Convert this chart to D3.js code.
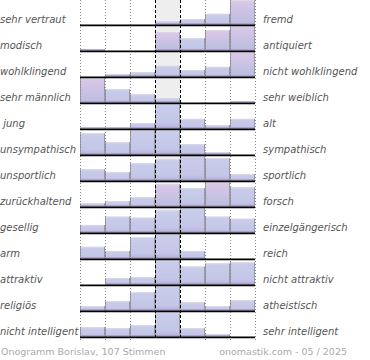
<!DOCTYPE html>
<html><head><meta charset="utf-8">
<script src="https://cdn.jsdelivr.net/npm/d3@7"></script>
<style>body{margin:0;background:#fff;} svg{display:block;}</style>
</head><body>
<svg id="c" width="370" height="360"></svg>
<script>
const leftLabels = ["sehr vertraut","modisch","wohlklingend","sehr männlich"," jung","unsympathisch","unsportlich","zurückhaltend","gesellig","arm","attraktiv","religiös","nicht intelligent"];
const rightLabels = ["fremd","antiquiert","nicht wohlklingend","sehr weiblich","alt","sympathisch","sportlich","forsch","einzelgängerisch","reich","nicht attraktiv","atheistisch","sehr intelligent"];
const scalePoints = [1,2,3,4,5,6,7];
const votes = [
  [0,0,0,4,6,11,24],
  [2,0,0,19,13,21,25],
  [0,3,5,11,7,10,24],
  [25,14,9,5,0,0,1],
  [1,1,6,24,10,4,10],
  [22,13,25,25,11,3,0],
  [12,9,18,22,25,23,7],
  [4,6,10,23,19,25,20],
  [8,16,15,22,24,16,14],
  [12,8,21,24,8,0,0],
  [0,7,8,24,18,21,22],
  [5,10,19,25,9,5,11],
  [10,9,12,25,9,3,0]
];
const tinted = [[0,6],[1,3],[1,5],[1,6],[2,6],[3,0],[7,3],[7,5]];
const footerLeft = "Onogramm Borislav, 107 Stimmen";
const footerRight = "onomastik.com - 05 / 2025";

const svg = d3.select("#c");
const defs = svg.append("defs");
const gB = defs.append("linearGradient").attr("id","gb").attr("x1",0).attr("y1",0).attr("x2",0).attr("y2",1);
gB.append("stop").attr("offset","0%").attr("stop-color","#c9cdea");
gB.append("stop").attr("offset","75%").attr("stop-color","#c3c6e6");
gB.append("stop").attr("offset","100%").attr("stop-color","#b2acd8");
const gP = defs.append("linearGradient").attr("id","gp").attr("x1",0).attr("y1",0).attr("x2",0).attr("y2",1);
gP.append("stop").attr("offset","0%").attr("stop-color","#dcc8e8");
gP.append("stop").attr("offset","100%").attr("stop-color","#b8bce0");

const x = d3.scaleBand().domain(scalePoints).range([80,255]).padding(0);
const row = d3.scaleBand().domain(d3.range(leftLabels.length)).range([-0.7,337.3]).padding(0);
const bw = x.bandwidth();
const rh = row.bandwidth();

svg.append("rect").attr("x",x(4)).attr("y",0).attr("width",bw).attr("height",row(12)+rh).attr("fill","#eeeeee");

votes.forEach((vals,ri)=>{
  const maxV = d3.max(vals);
  const h = d3.scaleLinear().domain([0,maxV]).range([0,rh-1]);
  const base = row(ri)+rh;
  const g = svg.append("g");
  vals.forEach((v,ci)=>{
    if(v<=0) return;
    const hh = h(v);
    const x0 = x(scalePoints[ci]);
    const isT = tinted.some(t=>t[0]===ri&&t[1]===ci);
    g.append("rect").attr("x",x0).attr("y",base-hh).attr("width",bw).attr("height",hh)
      .attr("fill",isT?"url(#gp)":"url(#gb)");
    g.append("line").attr("x1",x0+0.5).attr("x2",x0+bw-0.5).attr("y1",base-hh+0.5).attr("y2",base-hh+0.5)
      .attr("stroke","#d8d8e0").attr("stroke-width",1);
    g.append("line").attr("x1",x0).attr("x2",x0+bw).attr("y1",base-1.5).attr("y2",base-1.5)
      .attr("stroke","#a596c8").attr("stroke-width",1);
    [x0+0.5,x0+bw-0.5].forEach(xx=>{
      g.append("line").attr("x1",xx).attr("x2",xx).attr("y1",base-hh).attr("y2",base)
        .attr("stroke","#9a9aa6").attr("stroke-width",1);
    });
  });
});

const gridBottom = 340;
[1,2,3,6,7].forEach(k=>{
  svg.append("line").attr("x1",x(k)+0.5).attr("x2",x(k)+0.5).attr("y1",0).attr("y2",gridBottom)
    .attr("stroke","#888").attr("stroke-width",1).attr("stroke-dasharray","1,2");
});
svg.append("line").attr("x1",255.5).attr("x2",255.5).attr("y1",0).attr("y2",gridBottom)
  .attr("stroke","#888").attr("stroke-width",1).attr("stroke-dasharray","1,2");
[4,5].forEach(k=>{
  svg.append("line").attr("x1",x(k)+0.5).attr("x2",x(k)+0.5).attr("y1",0).attr("y2",gridBottom)
    .attr("stroke","#000").attr("stroke-width",1).attr("stroke-dasharray","3,2");
});

leftLabels.forEach((l,ri)=>{
  const base = row(ri)+rh;
  svg.append("line").attr("x1",80).attr("x2",255).attr("y1",base).attr("y2",base)
    .attr("stroke","#000").attr("stroke-width",1.8);
});

const lblFont = "DejaVu Sans, sans-serif";
svg.selectAll("text.l").data(leftLabels).join("text").attr("class","l")
  .attr("x",0).attr("y",(d,i)=>row(i)+rh-2.5).text(d=>d)
  .attr("font-family",lblFont).attr("font-size",10).attr("font-style","italic").attr("fill","#555")
  .style("white-space","pre");
svg.selectAll("text.r").data(rightLabels).join("text").attr("class","r")
  .attr("x",263).attr("y",(d,i)=>row(i)+rh-2.5).text(d=>d)
  .attr("font-family",lblFont).attr("font-size",10).attr("font-style","italic").attr("fill","#555");

svg.append("text").attr("x",1).attr("y",355).text(footerLeft)
  .attr("font-family",lblFont).attr("font-size",9.5).attr("fill","#aaa");
svg.append("text").attr("x",347).attr("y",355).attr("text-anchor","end").text(footerRight)
  .attr("font-family",lblFont).attr("font-size",9.5).attr("fill","#aaa");
</script>
</body></html>
